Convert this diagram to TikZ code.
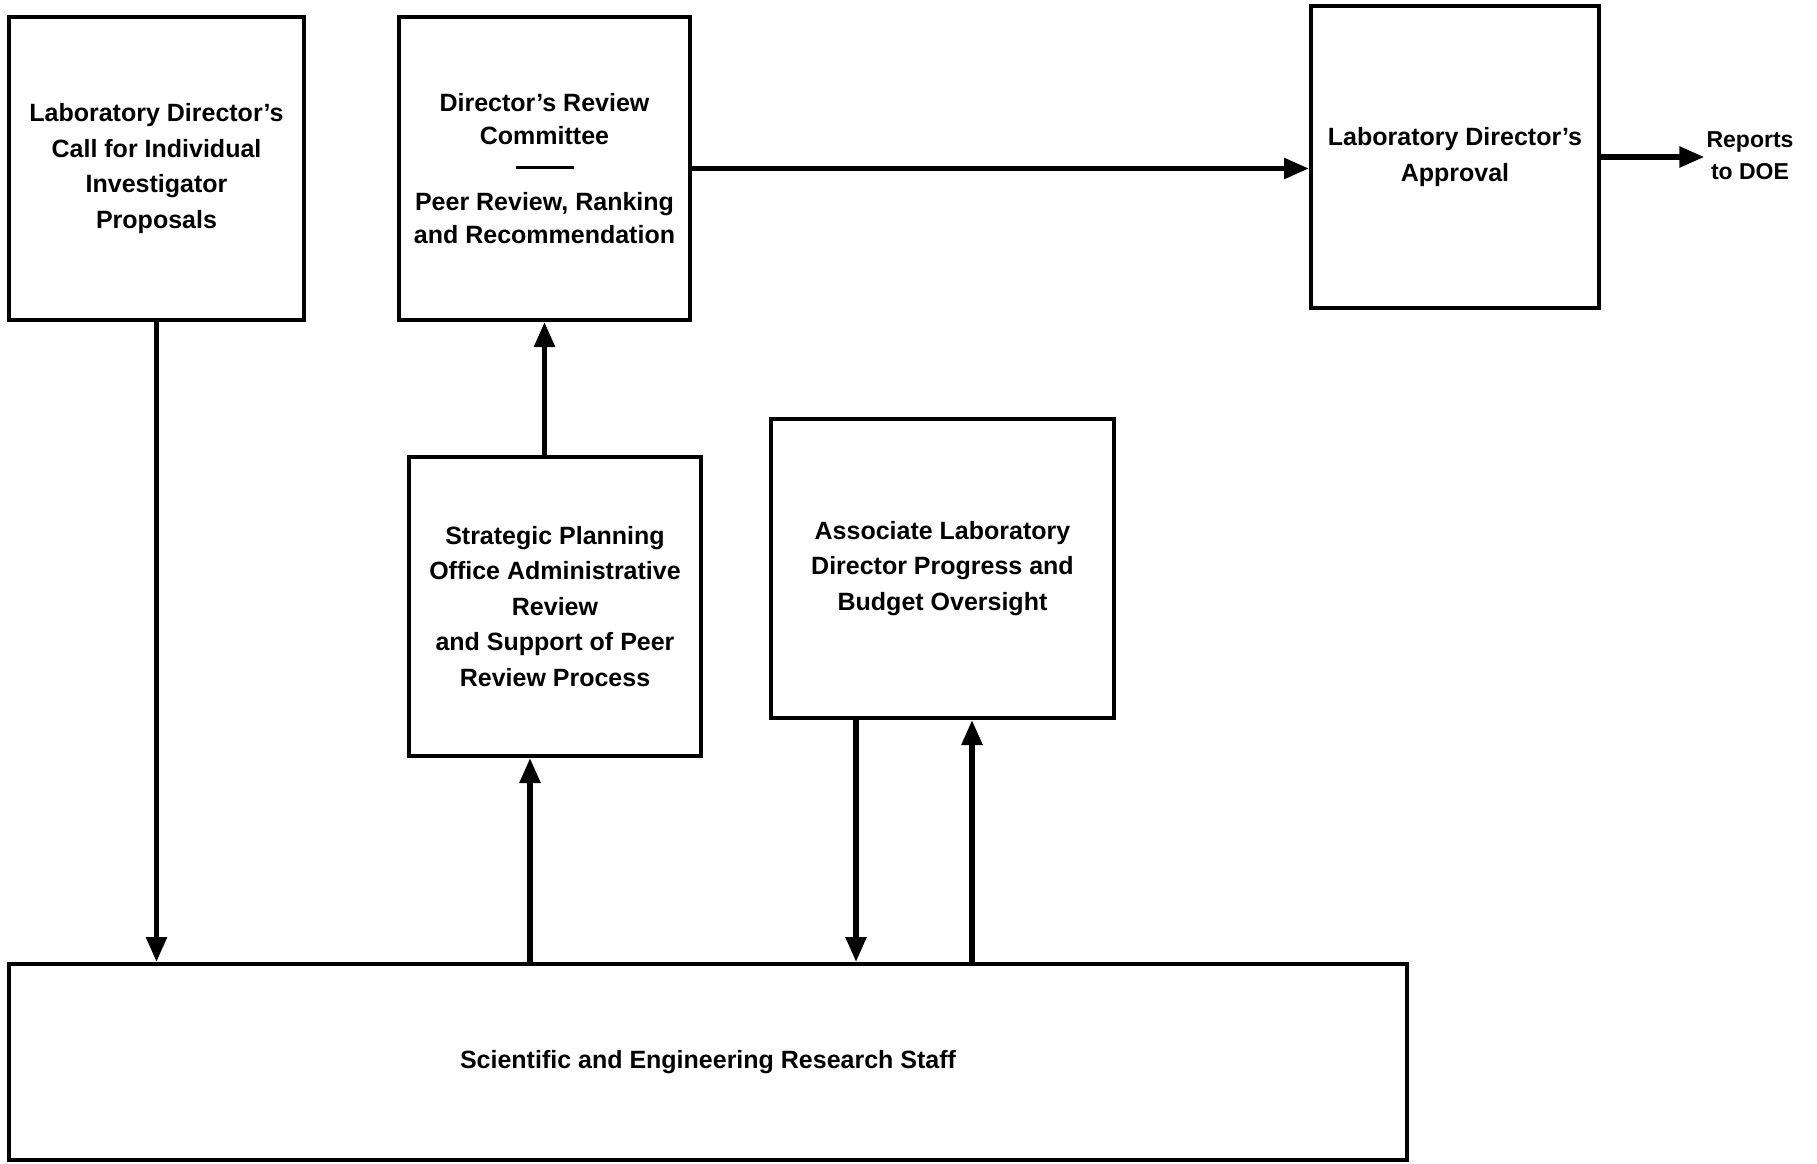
\documentclass[tikz,border=0pt]{standalone}
\usepackage{fontspec}
\setmainfont{Liberation Sans}
\usetikzlibrary{arrows.meta,calc}
\begin{document}
\begin{tikzpicture}[x=1pt,y=-1pt,
  box/.style={draw, line width=4pt, align=center, inner sep=0pt,
    font=\bfseries\fontsize{25}{35.5}\selectfont},
  arr/.style={line width=5.5pt, -{Triangle[length=25pt,width=20pt]}},
  lbl/.style={align=center, inner sep=2pt, font=\bfseries\fontsize{23}{32}\selectfont}]
\useasboundingbox (0,0) rectangle (1817,1163);

\node[box, minimum width=295pt, minimum height=303pt] (b1) at (156.5,168.5)
  {Laboratory Director's\\Call for Individual\\Investigator\\Proposals};
\node[box, minimum width=291pt, minimum height=303pt,
  font=\bfseries\fontsize{25}{33}\selectfont] (b2) at (544.5,168.5)
  {Director's Review\\Committee\\\rule[8pt]{58pt}{3pt}\\Peer Review, Ranking\\and Recommendation};
\node[box, minimum width=288pt, minimum height=302pt] (b3) at (1455,157)
  {Laboratory Director's\\Approval};
\node[lbl] (rep) at (1750,156) {Reports\\to DOE};
\node[box, minimum width=292pt, minimum height=299pt] (b4) at (555,606.5)
  {Strategic Planning\\Office Administrative\\Review\\and Support of Peer\\Review Process};
\node[box, minimum width=343pt, minimum height=299pt] (b5) at (942.5,568.5)
  {Associate Laboratory\\Director Progress and\\Budget Oversight};
\node[box, minimum width=1398pt, minimum height=196pt] (b6) at (708,1062)
  {Scientific and Engineering Research Staff};

\coordinate (x4) at (530,0);
\coordinate (x5a) at (856,0);
\coordinate (x5b) at (972,0);

\draw[arr] (b2.east) -- (b2.east -| b3.west);
\draw[arr] (b3.east) -- (b3.east -| rep.west);
\draw[arr] (b1.south) -- (b1.south |- b6.north);
\draw[arr] (b6.north -| x4) -- (b4.south -| x4);
\draw[arr] (b4.north -| b2.south) -- (b2.south);
\draw[arr] (b5.south -| x5a) -- (b6.north -| x5a);
\draw[arr] (b6.north -| x5b) -- (b5.south -| x5b);
\end{tikzpicture}
\end{document}
